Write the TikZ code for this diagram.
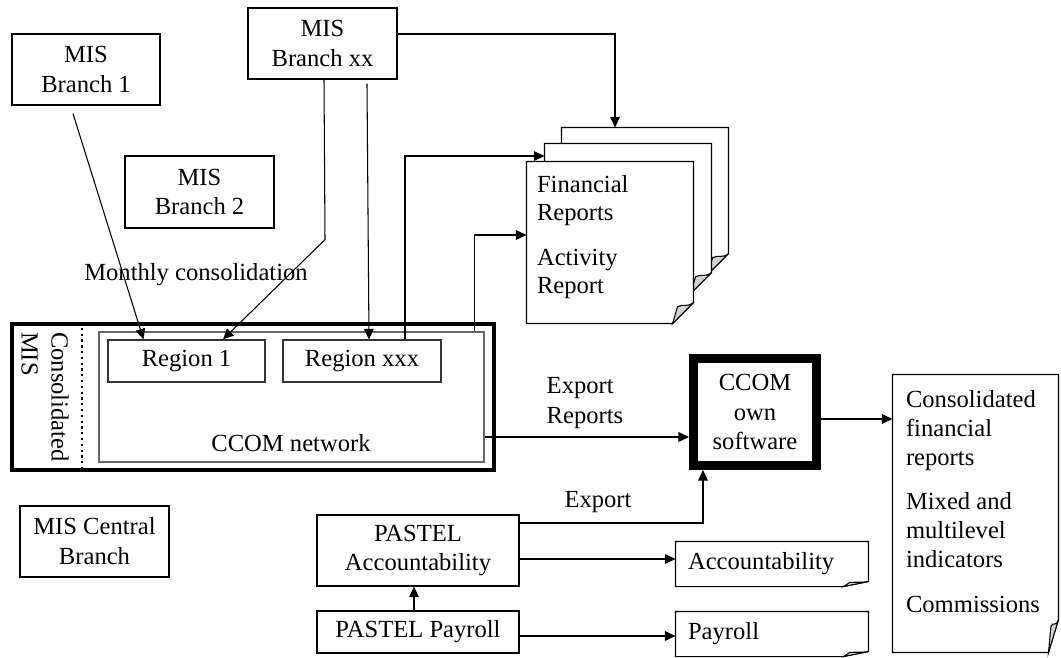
\documentclass[tikz,border=0pt]{standalone}
\usepackage{fontspec}
\setmainfont{Liberation Serif}
\usetikzlibrary{arrows.meta,positioning}

% page outline with a curled corner: node, fold width, fold height
\newcommand{\pageoutline}[3]{%
  \draw[fill=white] (#1.north west) -- (#1.north east) -- ([yshift=#3]#1.south east)
    -- ([xshift=-#2]#1.south east) -- (#1.south west) -- cycle;
  \draw[fill=gray!35] ([xshift=-#2]#1.south east)
    -- ([xshift=-0.76*#2,yshift=0.8*#3]#1.south east)
    .. controls ([xshift=-0.5*#2,yshift=0.95*#3]#1.south east) and ([xshift=-0.3*#2,yshift=0.75*#3]#1.south east)
    .. ([yshift=#3]#1.south east) -- cycle;
}

\tikzset{
  every node/.style={font=\fontsize{14}{17}\selectfont},
  box/.style={draw, line width=0.7pt, inner sep=0pt, align=center},
  docpage/.style={inner sep=0pt, draw=none},
  doctext/.style={align=left, inner sep=0pt, font=\fontsize{14}{16}\selectfont},
}

\begin{document}
\begin{tikzpicture}[x=0.02cm, y=-0.02cm, >={Triangle[length=6pt,width=5.5pt]}, line width=0.6pt]
    \useasboundingbox (0,0) rectangle (1061,657);

    % 1. MIS branches
    \node[box, minimum width=2.96cm, minimum height=1.42cm] (br1) at (86,69.5) {MIS\\Branch 1};
    \node[box, minimum width=2.98cm, minimum height=1.44cm] (br2) at (199.5,192) {MIS\\Branch 2};
    \node[box, minimum width=2.98cm, minimum height=1.42cm] (brxx) at (322.5,43.5) {MIS\\Branch xx};
    \node[box, minimum width=2.98cm, minimum height=1.42cm] (cen) at (94.5,541.5) {MIS Central\\Branch};
    \node (monthly) at (196,275) {Monthly consolidation};

    % 2. Consolidated MIS and CCOM network
    \node[draw, line width=0.08cm, minimum width=9.64cm, minimum height=2.92cm, inner sep=0pt] (cmis) at (253,397) {};
    \node[draw=black!60, line width=0.8pt, minimum width=7.7cm, minimum height=2.6cm, inner sep=0pt] (net) at (291.5,397) {};
    \coordinate (dotx) at (82,0);
    \draw[dotted, line width=1.3pt] (cmis.north -| dotx) -- (cmis.south -| dotx);
    \node[rotate=-90, align=left] (cmislbl) at (45,397) {Consolidated\\MIS};
    \node[box, draw=black!80, minimum width=3.14cm, minimum height=0.84cm] (reg1) at (186.5,361) {Region 1};
    \node[box, draw=black!80, minimum width=3.16cm, minimum height=0.84cm] (regx) at (362,361) {Region xxx};
    \node (netlbl) at (291,443) {CCOM network};

    % 3. Stack of reports
    \node[docpage, minimum width=3.32cm, minimum height=2.92cm] (d3) at (645,201) {};
    \node[docpage, minimum width=3.32cm, minimum height=2.98cm] (d2) at (628,218.5) {};
    \node[docpage, minimum width=3.32cm, minimum height=3.22cm] (d1) at (610,242.5) {};
    \pageoutline{d3}{0.42cm}{0.42cm}
    \pageoutline{d2}{0.42cm}{0.42cm}
    \pageoutline{d1}{0.42cm}{0.42cm}
    \node[doctext, below right=0.26cm and 0.2cm of d1.north west] (d1txt) {Financial\\Reports\\[10pt]Activity\\Report};

    % 4. CCOM own software and PASTEL
    \node[box, line width=0.18cm, minimum width=2.46cm, minimum height=2.14cm] (sw) at (755,412) {CCOM\\own\\software};
    \node[box, minimum width=4.04cm, minimum height=1.42cm] (pacc) at (418,550.5) {PASTEL\\Accountability};
    \node[box, minimum width=4.04cm, minimum height=0.84cm] (ppay) at (418,632) {PASTEL Payroll};

    \node[docpage, minimum width=3.84cm, minimum height=0.88cm] (accdoc) at (772,564) {};
    \node[docpage, minimum width=3.84cm, minimum height=0.88cm] (paydoc) at (772,634) {};
    \node[docpage, minimum width=3.3cm, minimum height=5.54cm] (bigdoc) at (975.5,513.5) {};
    \pageoutline{accdoc}{0.5cm}{0.1cm}
    \pageoutline{paydoc}{0.5cm}{0.1cm}
    \pageoutline{bigdoc}{0.2cm}{0.66cm}
    \node[doctext, right=0.24cm of accdoc.west] (acctxt) {Accountability};
    \node[doctext, right=0.24cm of paydoc.west] (paytxt) {Payroll};
    \node[doctext, font=\fontsize{14}{16.5}\selectfont, below right=0.3cm and 0.26cm of bigdoc.north west] (bigtxt)
        {Consolidated\\financial\\reports\\[9pt]Mixed and\\multilevel\\indicators\\[9pt]Commissions};

    % 5. Connectors
    \draw[->] ([xshift=-0.26cm,yshift=-0.16cm]br1.south) -- ([xshift=-0.86cm]reg1.north);
    \draw[->] ([xshift=0.03cm]brxx.south) -- ++(1,160) -- ([xshift=0.73cm]reg1.north);
    \draw[->] ([xshift=0.89cm,yshift=-0.08cm]brxx.south) -- ([xshift=0.14cm]regx.north);
    \draw[->] ([yshift=0.19cm]brxx.east) -| ([xshift=-0.6cm]d3.north);
    \draw[->] ([xshift=0.86cm]regx.north) |- ([yshift=1.25cm]d2.west);
    \draw[->] ([xshift=3.67cm]net.north) |- ([yshift=0.15cm]d1.west);
    \draw[->] ([yshift=-0.8cm]net.east) -- ([yshift=-0.8cm]net.east -| sw.west);
    \draw[->] ([yshift=-0.14cm]sw.east) -- ([yshift=-0.14cm]sw.east -| bigdoc.west);
    \draw[->] ([yshift=0.55cm]pacc.east) -| ([xshift=-1.04cm]sw.south);
    \draw[->] ([yshift=-0.17cm]pacc.east) -- ([yshift=-0.17cm]pacc.east -| accdoc.west);
    \draw[->] ([yshift=-0.08cm]ppay.east) -- ([yshift=-0.08cm]ppay.east -| paydoc.west);
    \draw[->] ([xshift=-0.08cm]ppay.north) -- ([xshift=-0.08cm]pacc.south);

    % 6. Labels on connectors
    \node[align=left] (explbl) at (585,403) {Export\\Reports};
    \node (exp) at (598,502) {Export};

\end{tikzpicture}
\end{document}
